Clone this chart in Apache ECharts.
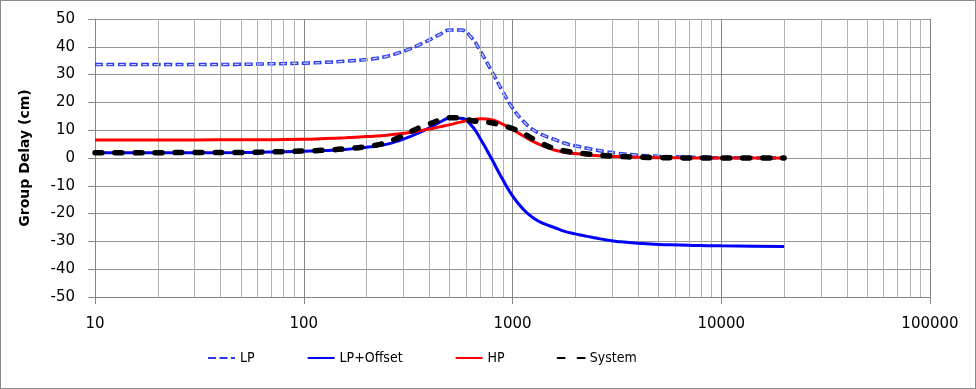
<!DOCTYPE html>
<html>
<head>
<meta charset="utf-8">
<script src="https://cdn.jsdelivr.net/npm/echarts@6/dist/echarts.min.js"></script>
<style>
html,body{margin:0;padding:0;background:#fff;}
#wrap{width:974px;height:387px;border:1px solid #8a8a8a;}
#chart{width:974px;height:387px;}
</style>
</head>
<body>
<div id="wrap"><div id="chart"></div></div>
<script>
const freqs = [10, 15, 20, 30, 50, 70, 100, 126, 158,
  200, 224, 251, 282, 316, 355, 398, 447, 501, 562, 631, 708, 794, 891, 1000, 1122, 1259, 1413, 1585, 1778, 1995, 2239, 2512, 2818, 3162,
  3981, 5012, 6310, 7943, 10000, 14125, 20000];
const lpValues = [33.6, 33.6, 33.6, 33.6, 33.7, 33.9, 34.1, 34.4, 34.8,
  35.4, 35.9, 36.6, 37.7, 39.0, 40.6, 42.4, 44.4, 46.0, 46.0, 43.6, 37.9, 31.3, 24.4, 18.0, 13.4, 10.1, 8.1, 6.7, 5.3, 4.4, 3.6, 2.9, 2.2, 1.7,
  1.0, 0.6, 0.4, 0.2, 0.1, 0.05, 0.0];
const lpOffsetValues = [1.9, 1.9, 1.9, 1.9, 2.0, 2.2, 2.4, 2.7, 3.1,
  3.9, 4.3, 5.0, 6.1, 7.4, 9.0, 10.8, 12.8, 14.3, 14.3, 12.0, 6.4, -0.3, -7.3, -13.6, -18.3, -21.6, -23.6, -25.0, -26.4, -27.3, -28.1, -28.8, -29.5, -30.0,
  -30.7, -31.1, -31.3, -31.5, -31.6, -31.7, -31.8];
const hpValues = [6.5, 6.5, 6.5, 6.5, 6.6, 6.6, 6.7, 7.0, 7.3,
  7.7, 7.9, 8.2, 8.6, 9.1, 9.7, 10.4, 11.2, 12.0, 12.9, 13.7, 14.1, 13.8, 12.3, 10.3, 8.0, 5.9, 4.2, 2.9, 2.1, 1.6, 1.2, 0.9, 0.6, 0.5,
  0.25, 0.1, 0.05, 0.0, 0.0, 0.0, 0.0];
const systemValues = [1.9, 1.9, 1.9, 2.0, 2.0, 2.2, 2.5, 2.8, 3.3,
  4.1, 4.7, 5.6, 7.2, 9.0, 10.8, 12.2, 13.6, 14.5, 14.5, 13.5, 13.1, 12.7, 11.7, 10.6, 8.9, 6.8, 4.9, 3.4, 2.5, 1.9, 1.5, 1.1, 0.8, 0.6,
  0.3, 0.15, 0.05, 0.0, 0.0, 0.0, 0.0];
const seriesNames = ['LP', 'LP+Offset', 'HP', 'System'];
const minorGrid = [20,30,40,50,60,70,80,90,200,300,400,500,600,700,800,900,2000,3000,4000,5000,6000,7000,8000,9000,20000,30000,40000,50000,60000,70000,80000,90000];

const pairs = vals => freqs.map((f, i) => [f, vals[i]]);

const chart = echarts.init(document.getElementById('chart'));
const axisFont = {fontFamily: 'DejaVu Sans', fontSize: 15, color: '#000'};
const hiddenSym = {opacity: 0};
chart.setOption({
  animation: false,
  grid: {left: 94, right: 45, top: 18, bottom: 91, containLabel: false},
  legend: {
    data: seriesNames,
    left: 206, top: 350, padding: 0,
    itemWidth: 27, itemHeight: 10, itemGap: 52,
    itemStyle: {opacity: 0},
    textStyle: {fontFamily: "'DejaVu Sans Condensed', 'Liberation Sans Narrow', sans-serif", fontSize: 14, color: '#000'}
  },
  xAxis: {
    type: 'log', logBase: 10, min: 10, max: 100000,
    axisLine: {show: true, onZero: false, lineStyle: {color: '#868686', width: 1}},
    axisTick: {show: true, inside: false, length: 7, lineStyle: {color: '#868686'}},
    axisLabel: Object.assign({margin: 20, formatter: v => String(Math.round(v))}, axisFont),
    splitLine: {show: true, lineStyle: {color: '#868686', width: 1}},
    minorTick: {show: false}, minorSplitLine: {show: false}
  },
  yAxis: {
    type: 'value', min: -50, max: 50, interval: 10,
    name: 'Group Delay (cm)', nameLocation: 'middle', nameGap: 63, nameRotate: 90,
    nameTextStyle: {fontFamily: 'DejaVu Sans', fontWeight: 'bold', fontSize: 14, color: '#000'},
    axisLine: {show: true, lineStyle: {color: '#868686', width: 1}},
    axisTick: {show: true, inside: false, length: 7, lineStyle: {color: '#868686'}},
    axisLabel: Object.assign({margin: 20}, axisFont),
    splitLine: {show: true, lineStyle: {color: '#959595', width: 1}}
  },
  series: [
    {
      name: 'minorGrid', type: 'line', data: [], z: 1, silent: true,
      markLine: {
        silent: true, symbol: ['none', 'none'], animation: false,
        label: {show: false},
        lineStyle: {color: '#b2b2b2', width: 1, type: 'solid'},
        emphasis: {disabled: true},
        data: minorGrid.map(v => ({xAxis: v}))
      }
    },
    {
      name: 'LP', type: 'line', data: pairs(lpValues), z: 3, symbol: 'none', smooth: 0.5,
      itemStyle: hiddenSym,
      lineStyle: {color: '#2a3cf0', width: 3.5, type: [8, 3.5]}
    },
    {
      name: 'LP', type: 'line', data: pairs(lpValues), z: 4, symbol: 'none', smooth: 0.5,
      itemStyle: hiddenSym,
      lineStyle: {color: '#c8ccff', width: 1.3, type: [5, 6.5], dashOffset: -1.5}
    },
    {
      name: 'LP+Offset', type: 'line', data: pairs(lpOffsetValues), z: 5, symbol: 'none', smooth: 0.5,
      itemStyle: hiddenSym,
      lineStyle: {color: '#0000ff', width: 3}
    },
    {
      name: 'HP', type: 'line', data: pairs(hpValues), z: 6, symbol: 'none', smooth: 0.5,
      itemStyle: hiddenSym,
      lineStyle: {color: '#ff0000', width: 3}
    },
    {
      name: 'System', type: 'line', data: pairs(systemValues), z: 7, symbol: 'none', smooth: 0.5,
      itemStyle: hiddenSym,
      lineStyle: {color: '#000000', width: 5.5, type: [7, 13], cap: 'round'}
    }
  ]
});
</script>
</body>
</html>
